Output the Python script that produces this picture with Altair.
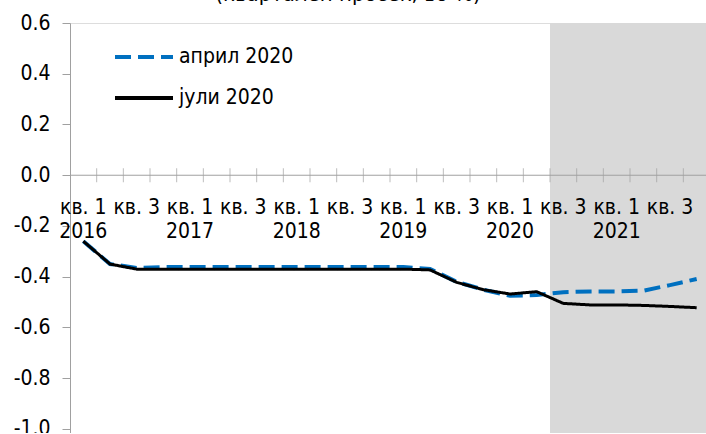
import altair as alt
import pandas as pd

# Quarterly inflation forecast, 2016 Q1 - 2021 Q4
years = [2016, 2017, 2018, 2019, 2020, 2021]
quarter_names = ["кв. 1", "кв. 2", "кв. 3", "кв. 4"]

april_2020 = [-0.26, -0.35, -0.365, -0.362, -0.362, -0.362, -0.362, -0.362,
              -0.362, -0.362, -0.362, -0.362, -0.362, -0.369, -0.42, -0.451,
              -0.475, -0.472, -0.461, -0.458, -0.458, -0.455, -0.433, -0.409]
july_2020 = [-0.26, -0.35, -0.37, -0.37, -0.37, -0.37, -0.37, -0.37,
             -0.37, -0.37, -0.37, -0.37, -0.37, -0.373, -0.422, -0.451,
             -0.468, -0.459, -0.505, -0.511, -0.511, -0.513, -0.517, -0.522]

series_names = ["април 2020", "јули 2020"]
series_colors = ["#0070C0", "#000000"]
forecast_start = 18  # 2020 Q3
y_ticks = [0.6, 0.4, 0.2, 0.0, -0.2, -0.4, -0.6, -0.8, -1.0]
title_text = "(квартален просек, во %)"

FONT = "DejaVu Sans Condensed, DejaVu Sans"
AXIS_GRAY = "#A0A0A0"

n = len(years) * 4
X_MAX = 23.85
Y_MIN, Y_MAX = -1.0158, 0.6
W, H = 636, 410

rows = []
for name, vals in zip(series_names, [april_2020, july_2020]):
    for i, v in enumerate(vals):
        rows.append({"pos": i + 0.5, "value": v, "series": name})
df = pd.DataFrame(rows)

xs = alt.Scale(domain=[0, X_MAX], nice=False, zero=False)
ys = alt.Scale(domain=[Y_MIN, Y_MAX], nice=False, zero=False)

y_axis = alt.Axis(
    values=y_ticks,
    labelExpr="replace(format(datum.value, '.1f'), '\u2212', '-')",
    grid=False,
    domainColor=AXIS_GRAY,
    tickColor=AXIS_GRAY,
    tickSize=8,
    labelPadding=12,
    labelFont=FONT,
    labelFontSize=21,
    labelColor="#000000",
    title=None,
)

shade = alt.Chart(pd.DataFrame({"a": [forecast_start], "b": [X_MAX]})).mark_rect(
    color="#D9D9D9"
).encode(
    x=alt.X("a:Q", scale=xs, axis=None),
    x2="b:Q",
    y=alt.value(0),
    y2=alt.value(H),
)

zero_line = alt.Chart(pd.DataFrame({"a": [0], "b": [X_MAX], "v": [0.0]})).mark_rule(
    color=AXIS_GRAY, strokeWidth=1
).encode(
    x=alt.X("a:Q", scale=xs, axis=None),
    x2="b:Q",
    y=alt.Y("v:Q", scale=ys, axis=y_axis),
)

tick_df = pd.DataFrame({"pos": list(range(1, n)), "v": [0.0] * (n - 1)})
ticks = alt.Chart(tick_df).mark_tick(
    orient="vertical", color=AXIS_GRAY, size=14, thickness=1
).encode(
    x=alt.X("pos:Q", scale=xs, axis=None),
    y=alt.Y("v:Q", scale=ys, axis=y_axis),
)

q_rows = []
y_rows = []
for yi, yr in enumerate(years):
    for q in (0, 2):
        q_rows.append({"pos": yi * 4 + q + 0.5, "label": quarter_names[q]})
    y_rows.append({"pos": yi * 4 + 0.5, "label": str(yr)})

q_labels = alt.Chart(pd.DataFrame(q_rows)).mark_text(
    font=FONT, fontSize=21, color="#000000", baseline="middle"
).encode(
    x=alt.X("pos:Q", scale=xs, axis=None),
    y=alt.value(185),
    text="label:N",
)

yr_labels = alt.Chart(pd.DataFrame(y_rows)).mark_text(
    font=FONT, fontSize=21, color="#000000", baseline="middle"
).encode(
    x=alt.X("pos:Q", scale=xs, axis=None),
    y=alt.value(209),
    text="label:N",
)

color_enc = alt.Color(
    "series:N",
    scale=alt.Scale(domain=series_names, range=series_colors),
    legend=alt.Legend(
        title=None,
        orient="none",
        legendX=43,
        legendY=3,
        symbolType="stroke",
        symbolSize=3364,
        symbolStrokeWidth=4,
        labelFont=FONT,
        labelFontSize=21,
        labelColor="#000000",
        labelOffset=4,
        rowPadding=-17,
    ),
)
dash_enc = alt.StrokeDash(
    "series:N",
    scale=alt.Scale(domain=series_names, range=[[16, 7], [1, 0]]),
    legend=None,
)

base = alt.Chart(df).encode(
    x=alt.X("pos:Q", scale=xs, axis=None),
    y=alt.Y("value:Q", scale=ys, axis=y_axis),
    color=color_enc,
    strokeDash=dash_enc,
)

line_april = base.transform_filter(
    alt.datum.series == series_names[0]
).mark_line(strokeWidth=4)
line_july = base.transform_filter(
    alt.datum.series == series_names[1]
).mark_line(strokeWidth=3)

title = alt.Chart(pd.DataFrame({"t": [title_text]})).mark_text(
    font=FONT, fontSize=22, color="#000000", baseline="alphabetic", align="center"
).encode(
    x=alt.value(278),
    y=alt.value(-22),
    text="t:N",
)

chart = alt.layer(
    shade, zero_line, ticks, q_labels, yr_labels, line_april, line_july, title
).properties(
    width=W,
    height=H,
    padding={"left": 70, "top": 23, "right": 0, "bottom": 0},
    autosize=alt.AutoSizeParams(type="none"),
).configure_view(
    stroke=None
).configure(
    background="#FFFFFF"
)

chart.save("out.html", embed_options={"renderer": "svg", "actions": False})
